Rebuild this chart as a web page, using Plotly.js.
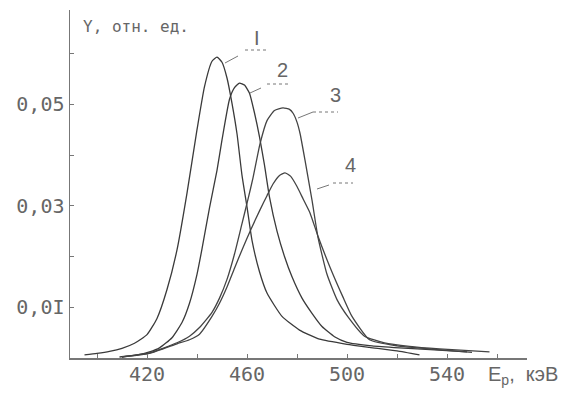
<!DOCTYPE html>
<html>
<head>
<meta charset="utf-8">
<script src="https://cdn.plot.ly/plotly-3.0.1.min.js"></script>
<style>html,body{margin:0;padding:0;background:#fff;}#chart{width:586px;height:395px;}</style>
</head>
<body>
<div id="chart"></div>
<script>
// ---- data (E in keV, Y in rel. units) ----
var curve1E = [395, 400, 405, 410, 415, 420, 424, 428, 432, 436, 440, 443, 446, 448, 450, 452, 454, 456, 458, 460, 462, 465, 468, 474, 481, 489, 500, 509, 520, 529];
var curve1Y = [0.0006, 0.0009, 0.0013, 0.0019, 0.0029, 0.0046, 0.0078, 0.0135, 0.0213, 0.0325, 0.0450, 0.0535, 0.0585, 0.0593, 0.0583, 0.0552, 0.0502, 0.0442, 0.0360, 0.0298, 0.0232, 0.0170, 0.0128, 0.0082, 0.0055, 0.0037, 0.0027, 0.0021, 0.0014, 0.0006];

var curve2E = [409, 416, 421, 425, 430, 434, 437, 440, 442, 445, 448, 450, 453, 455, 457, 459, 461, 463, 465, 467, 469, 472, 475, 478, 482, 486, 490, 495, 500, 510, 521, 535, 548];
var curve2Y = [0.0002, 0.0006, 0.0012, 0.0020, 0.0040, 0.0070, 0.0108, 0.0165, 0.0215, 0.0296, 0.0370, 0.0430, 0.0510, 0.0533, 0.0542, 0.0538, 0.0522, 0.0483, 0.0436, 0.0380, 0.0317, 0.0250, 0.0200, 0.0160, 0.0118, 0.0088, 0.0062, 0.0042, 0.0031, 0.0024, 0.0020, 0.0016, 0.0012];

var curve3E = [410, 421, 432, 437, 441, 446, 449, 452, 455, 458, 460.5, 462.4, 465.2, 468, 471, 474.4, 477, 478.5, 480, 481.2, 483.2, 486, 488.4, 492, 496, 500.4, 507, 515, 525, 537, 557];
var curve3Y = [0.0002, 0.0010, 0.0030, 0.0043, 0.0060, 0.0090, 0.0118, 0.0155, 0.0205, 0.0265, 0.0315, 0.0355, 0.0422, 0.0468, 0.0488, 0.0493, 0.0490, 0.0482, 0.0465, 0.0443, 0.0390, 0.0311, 0.0238, 0.0165, 0.0115, 0.0081, 0.0043, 0.0030, 0.0023, 0.0018, 0.0012];

var curve4E = [410, 421, 432, 437, 441, 446, 449, 452, 455, 458, 461.6, 465.2, 468, 470.4, 473, 475.2, 477.5, 480, 482.5, 485.2, 488.4, 493.2, 498.4, 502, 509, 520, 535, 550];
var curve4Y = [0.0002, 0.0009, 0.0028, 0.0036, 0.0047, 0.0082, 0.0108, 0.0140, 0.0177, 0.0213, 0.0254, 0.0292, 0.0320, 0.0343, 0.0360, 0.0365, 0.0358, 0.0338, 0.0313, 0.0286, 0.0240, 0.0179, 0.0120, 0.0082, 0.0036, 0.0024, 0.0017, 0.0011];

var xTickVals = [420, 460, 500, 540];
var xTickText = ['420', '460', '500', '540'];
var yTickVals = [0.01, 0.03, 0.05];
var yTickText = ['0,0I', '0,03', '0,05'];
var curveNames = ['I', '2', '3', '4'];

// ---- layout geometry ----
var W = 586, H = 395;
var M = {l: 70, r: 59, t: 10, b: 37};
var xRange = [389.2, 572];
var yRange = [0, 0.0686];
function px(p) { return xRange[0] + (p - M.l) / (W - M.l - M.r) * (xRange[1] - xRange[0]); }
function py(p) { return yRange[0] + (H - M.b - p) / (H - M.t - M.b) * (yRange[1] - yRange[0]); }
function ppx(p) { return (p - M.l) / (W - M.l - M.r); }
function ppy(p) { return (H - M.b - p) / (H - M.t - M.b); }

var lineCol = '#3a3a3a';
var textCol = '#666666';
var mono = 'DejaVu Sans Mono, Liberation Mono, monospace';
var sans = 'Liberation Sans, Arial, sans-serif';

function tr(x, y, c) {
  return {x: x, y: y, type: 'scatter', mode: 'lines',
    line: {color: c || lineCol, width: 1.3, shape: 'spline', smoothing: 0.5},
    hoverinfo: 'skip', showlegend: false};
}
var data = [
  tr(curve1E, curve1Y),
  tr(curve2E, curve2Y),
  tr(curve3E, curve3Y, '#444'),
  tr(curve4E, curve4Y, '#444')
];

// curve labels: [text, textX, textY, underline x0, x1, y, leader from (x,y) to (x,y)]  (pixels)
var labs = [
  [curveNames[0], 257, 38, 245, 268, 50, 225, 63, 238, 56],
  [curveNames[1], 282, 70, 267, 289, 84, 250, 93, 261, 88],
  [curveNames[2], 335, 95, 313, 338, 112, 298, 118, 313, 112],
  [curveNames[3], 350, 165, 333, 353, 183, 317, 189, 329, 185]
];
var annotations = [];
var shapes = [];
labs.forEach(function (L) {
  annotations.push({x: ppx(L[1]), y: ppy(L[2]), xref: 'paper', yref: 'paper', text: L[0], showarrow: false,
    font: {family: sans, size: 20, color: textCol}, xanchor: 'center', yanchor: 'middle'});
  shapes.push({type: 'line', xref: 'x', yref: 'y', x0: px(L[3]), x1: px(L[4]), y0: py(L[5]), y1: py(L[5]),
    line: {color: '#777', width: 1, dash: 'dot'}});
  shapes.push({type: 'line', xref: 'x', yref: 'y', x0: px(L[6]), y0: py(L[7]), x1: px(L[8]), y1: py(L[9]),
    line: {color: '#777', width: 1}});
});
annotations.push({x: ppx(81), y: ppy(27), xref: 'paper', yref: 'paper', text: 'Y, отн. ед.', showarrow: false,
  font: {family: mono, size: 16, color: textCol}, xanchor: 'left', yanchor: 'middle'});
annotations.push({x: ppx(486), y: ppy(375), xref: 'paper', yref: 'paper', text: 'E<sub>p</sub>,  кэВ', showarrow: false,
  font: {family: sans, size: 20, color: textCol}, xanchor: 'left', yanchor: 'middle'});

var axisCommon = {
  showline: true, linecolor: '#777', linewidth: 1.5, mirror: false,
  showgrid: false, zeroline: false, ticks: 'inside', ticklen: 4, tickcolor: '#777', tickwidth: 1,
  tickfont: {family: mono, size: 20, color: textCol}, fixedrange: true
};
var layout = {
  width: W, height: H, margin: M, paper_bgcolor: '#fff', plot_bgcolor: '#fff',
  xaxis: Object.assign({}, axisCommon, {range: xRange, tickmode: 'array', tickvals: xTickVals, ticktext: xTickText, ticklabelstandoff: -3,
    minor: {tick0: 400, dtick: 20, ticks: 'inside', ticklen: 4, tickcolor: '#777', showgrid: false}}),
  yaxis: Object.assign({}, axisCommon, {range: yRange, tickmode: 'array', tickvals: yTickVals, ticktext: yTickText,
    minor: {tick0: 0, dtick: 0.01, ticks: 'inside', ticklen: 4, tickcolor: '#777', showgrid: false}}),
  annotations: annotations, shapes: shapes, showlegend: false
};
Plotly.newPlot('chart', data, layout, {staticPlot: true, displayModeBar: false});
</script>
</body>
</html>
